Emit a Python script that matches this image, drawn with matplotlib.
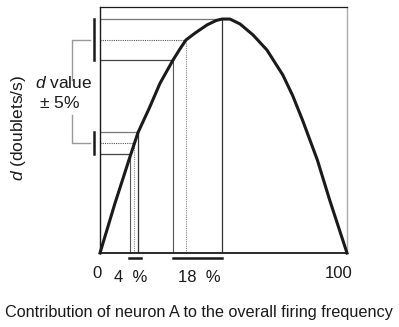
import matplotlib
matplotlib.use("Agg")
import matplotlib.pyplot as plt

plt.rcParams['font.family'] = ['Liberation Sans', 'DejaVu Sans']
plt.rcParams['mathtext.fontset'] = 'custom'
plt.rcParams['mathtext.rm'] = 'Liberation Sans'
plt.rcParams['mathtext.it'] = 'Liberation Sans:italic'

# curve: contribution of neuron A (%) vs d (relative)
contrib = [0, 6, 12.1, 15.4, 20, 24.3, 29.6, 32.4, 34.8, 38.5, 43.3, 47, 49.4,
           52.6, 56.7, 62, 67.6, 74, 78, 82, 88, 93, 100]
d_vals = [0, 0.2, 0.39, 0.49, 0.59, 0.69, 0.785, 0.83, 0.866, 0.894, 0.927, 0.945, 0.951,
          0.951, 0.931, 0.886, 0.825, 0.724, 0.64, 0.54, 0.378, 0.215, 0]

# upper d value (centre, -5%, +5%) and where it hits the curve
hi_d = [0.866, 0.785, 0.951]
hi_x = [34.8, 29.7, 49.3]
# lower d value
lo_d = [0.447, 0.402, 0.492]
lo_x = [13.9, 12.1, 15.5]

tick_lab = ['0', '100']
range_lab = ['4 %', '18 %']
range_lo = [[11.7, 16.5], [29.7, 49.5]]

fig = plt.figure(figsize=(3.99, 3.27), dpi=100)
ax = fig.add_axes([100 / 399, 1 - 253 / 327, 247 / 399, 246 / 327])
ax.set_xlim(0, 100)
ax.set_ylim(0, 1)

def guides(ds, xs):
    # centre value: dotted, lower/upper: solid
    ax.plot([0, xs[0]], [ds[0], ds[0]], color='#555555', ls=(0, (1, 1)), lw=0.8)
    ax.plot([xs[0], xs[0]], [0, ds[0]], color='#888888', ls=(0, (1, 1)), lw=0.8)
    ax.plot([0, xs[1]], [ds[1], ds[1]], color='#444444', lw=0.9)
    ax.plot([xs[1], xs[1]], [0, ds[1]], color='#555555', lw=0.8)
    ax.plot([0, xs[2]], [ds[2], ds[2]], color='#777777', lw=0.9)
    ax.plot([xs[2], xs[2]], [0, ds[2]], color='#333333', lw=0.9)

guides(hi_d, hi_x)
guides(lo_d, lo_x)

ax.plot(contrib, d_vals, color='#1a1a1a', lw=2.2, solid_joinstyle='round', clip_on=False, zorder=5)

# black bars on the y axis marking d +- 5%
for ds in (hi_d, lo_d):
    ax.plot([-2.4, -2.4], [min(ds[1:]), max(ds[1:])], color='#1a1a1a', lw=1.8, clip_on=False)

# gray bracket linking the two d values
ax.plot([-4, -11.3, -11.3], [hi_d[0], hi_d[0], 0.703], color='#999999', lw=1.0, clip_on=False)
ax.plot([-4, -11.3, -11.3], [lo_d[0], lo_d[0], 0.561], color='#999999', lw=1.0, clip_on=False)

# bars under the x axis
for r in range_lo:
    ax.plot(r, [-0.02, -0.02], color='#1a1a1a', lw=1.8, clip_on=False)

for s in ['left', 'bottom', 'top']:
    ax.spines[s].set_color('#1a1a1a')
ax.spines['left'].set_linewidth(1.0)
ax.spines['bottom'].set_linewidth(1.3)
ax.spines['top'].set_linewidth(0.9)
ax.spines['right'].set_color('#aaaaaa')
ax.spines['right'].set_linewidth(1.0)
ax.set_xticks([])
ax.set_yticks([])

def px(x, y):
    return x / 399, 1 - y / 327

for lab, x in zip(tick_lab, [97, 339]):
    fig.text(*px(x, 273), lab, ha='center', va='center', fontsize=12, color='#1a1a1a')
for lab, x in zip(range_lab, [131, 199]):
    fig.text(*px(x, 277), lab.replace(' ', '  '), ha='center', va='center', fontsize=12,
             color='#1a1a1a')

fig.text(*px(19, 128), '$d$ (doublets/s)', rotation=90, ha='center', va='center',
         fontsize=12.5, color='#1a1a1a')
fig.text(*px(64, 83), '$d$ value', ha='center', va='center', fontsize=12.5, color='#1a1a1a')
fig.text(*px(59, 103), '$\\pm$ 5%', ha='center', va='center', fontsize=12.5, color='#1a1a1a')
fig.text(*px(199, 312), 'Contribution of neuron A to the overall firing frequency',
         ha='center', va='center', fontsize=11.7, color='#1a1a1a')

fig.savefig('out.png', dpi=100)
